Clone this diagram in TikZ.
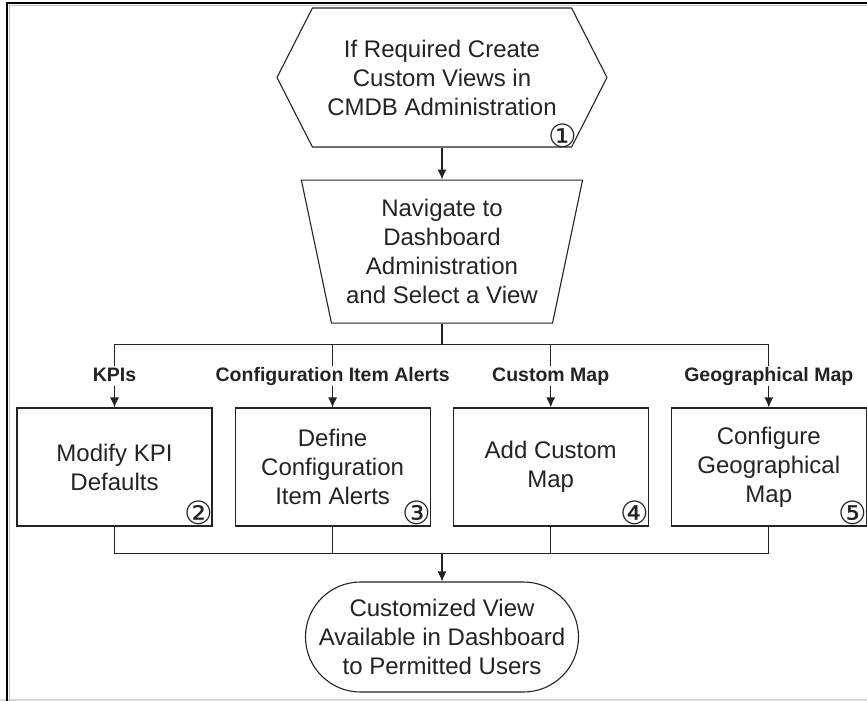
\documentclass[tikz,border=0pt]{standalone}
\usepackage{fontspec}
\setmainfont{Liberation Sans}
\newfontfamily\circfont{DejaVu Sans}
\usetikzlibrary{shapes,arrows.meta,positioning}

\definecolor{ink}{RGB}{35,35,35}
\newcommand{\bodyfont}{\fontsize{24pt}{29pt}\selectfont}
\newcommand{\lblfont}{\bfseries\fontsize{19.5pt}{21pt}\selectfont}

\tikzstyle{prep} = [signal, signal to=west and east, signal pointer angle=126, draw=ink, line width=1.1pt, text=ink, minimum width=330pt, minimum height=139pt, inner sep=0pt, align=center, font=\bodyfont]
\tikzstyle{manual} = [trapezium, trapezium left angle=104, trapezium right angle=104, trapezium stretches=true, draw=ink, line width=1.1pt, text=ink, minimum width=282pt, minimum height=143pt, inner sep=0pt, align=center, font=\bodyfont]
\tikzstyle{task} = [rectangle, draw=ink, line width=1.1pt, text=ink, minimum width=195pt, minimum height=118pt, inner sep=0pt, align=center, font=\bodyfont]
\tikzstyle{term} = [rectangle, rounded corners=55pt, draw=ink, line width=1.1pt, text=ink, minimum width=273pt, minimum height=110pt, inner sep=0pt, align=center, font=\bodyfont]
\tikzstyle{branch} = [text=ink, font=\lblfont, text height=14pt, text depth=4pt, inner sep=1pt]
\tikzstyle{stepno} = [text=ink, font=\circfont\fontsize{32pt}{32pt}\selectfont, inner sep=0pt]
\tikzstyle{tedge} = [draw=ink, line width=1.1pt, -{Latex[length=10pt,width=9pt]}]
\tikzstyle{tline} = [draw=ink, line width=1.1pt]

\begin{document}
\begin{tikzpicture}[x=1pt, y=-1pt]
\useasboundingbox (0,0) rectangle (867,701);

% frame
\draw[black!15, line width=1.5pt] (0,700) -- (867,700);
\draw[black!25, line width=1pt] (9,701) -- (9,5.5) -- (867,5.5);
\draw[black, line width=2pt] (6.5,701) -- (6.5,3.5) -- (867,3.5);

% preparation and view =====================
\node[prep] (create) at (442,77.5) {If Required Create\\Custom Views in\\CMDB Administration};
\node[manual, below=32pt of create] (navigate) {Navigate to\\Dashboard\\Administration\\and Select a View};

% tasks
\node[task] (kpi) at (114.5,467) {Modify KPI\\Defaults};
\node[task, right=22pt of kpi] (alerts) {Define\\Configuration\\Item Alerts};
\node[task, right=22pt of alerts] (cmap) {Add Custom\\Map};
\node[task, right=22pt of cmap] (gmap) {Configure\\Geographical\\Map};

% branch labels
\node[branch, above=21pt of kpi] (kpilbl) {KPIs};
\node[branch, above=21pt of alerts] (alertslbl) {Configuration Item Alerts};
\node[branch, above=21pt of cmap] (cmaplbl) {Custom Map};
\node[branch, above=21pt of gmap] (gmaplbl) {Geographical Map};

% result
\node[term] (result) at (442,637) {Customized View\\Available in Dashboard\\to Permitted Users};

% step numbers
\node[stepno, above right=12pt and 121pt of create.south, anchor=center] (no1) {①};
\node[stepno, above left=14pt and 14pt of kpi.south east, anchor=center] (no2) {②};
\node[stepno, above left=14pt and 14pt of alerts.south east, anchor=center] (no3) {③};
\node[stepno, above left=14pt and 14pt of cmap.south east, anchor=center] (no4) {④};
\node[stepno, above left=14pt and 14pt of gmap.south east, anchor=center] (no5) {⑤};

% edges
\path[tedge] (create.south) -- (navigate.north);
\path[tline] (navigate.south) -- ++(0,21) coordinate (split);
\path[tline] (split) -| (kpilbl.north);
\path[tline] (split) -| (alertslbl.north);
\path[tline] (split) -| (cmaplbl.north);
\path[tline] (split) -| (gmaplbl.north);

\path[tedge] (kpilbl.south) -- (kpi.north);
\path[tedge] (alertslbl.south) -- (alerts.north);
\path[tedge] (cmaplbl.south) -- (cmap.north);
\path[tedge] (gmaplbl.south) -- (gmap.north);

\coordinate[above=28pt of result.north] (join);
\path[tline] (kpi.south) |- (join);
\path[tline] (alerts.south) |- (join);
\path[tline] (cmap.south) |- (join);
\path[tline] (gmap.south) |- (join);
\path[tedge] (join) -- (result.north);

\end{tikzpicture}
\end{document}
